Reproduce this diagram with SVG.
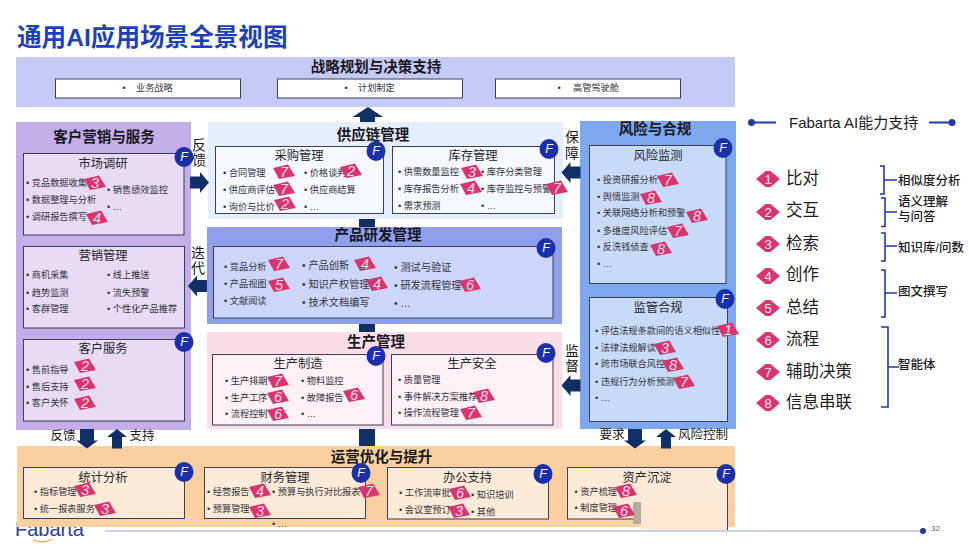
<svg xmlns="http://www.w3.org/2000/svg" width="969" height="554" viewBox="0 0 969 554">
<style>
text{font-family:"Liberation Sans","Noto Sans CJK SC",sans-serif;dominant-baseline:central;fill:#2b2b33}
.ttl{font-size:24.6px;font-weight:700;fill:#1f3fb4}
.pt{font-size:14.5px;font-weight:700;text-anchor:middle;fill:#17171d}
.bt{font-size:12.3px;text-anchor:middle;fill:#26262c}
.it{font-size:9.2px;fill:#33333c}
.ib{font-size:10.2px;fill:#33333c}
.lb{font-size:14px;text-anchor:middle;fill:#1c1c22}
.lh{font-size:12.5px;text-anchor:middle;fill:#1c1c22}
.box{stroke:#3a3f55;stroke-width:1}
.arr{fill:#0f2f66}
.tg{fill:#d8356f}
.tn{font-size:14.5px;font-style:italic;text-anchor:middle;fill:#fbdce8}
.fc{fill:#1a2fa8}
.ft{font-size:12.5px;font-style:italic;text-anchor:middle;fill:#fff}
.leg{font-size:16.5px;fill:#1c1c22}
.dn{font-size:13px;text-anchor:middle;fill:#fbe4ee}
.cap{font-size:12.5px;font-weight:500;fill:#1c1c22}
.br{fill:none;stroke:#1f3aa8;stroke-width:1.6}
</style>
<defs>
<polygon id="tag" class="tg" points="-11,-4 4,-7.5 11,4 -5,7"/>
<g id="t1"><use href="#tag"/><text class="tn">1</text></g>
<g id="t2"><use href="#tag"/><text class="tn">2</text></g>
<g id="t3"><use href="#tag"/><text class="tn">3</text></g>
<g id="t4"><use href="#tag"/><text class="tn">4</text></g>
<g id="t5"><use href="#tag"/><text class="tn">5</text></g>
<g id="t6"><use href="#tag"/><text class="tn">6</text></g>
<g id="t7"><use href="#tag"/><text class="tn">7</text></g>
<g id="t8"><use href="#tag"/><text class="tn">8</text></g>
<g id="f"><ellipse class="fc" rx="9.5" ry="10"/><text class="ft">F</text></g>
<polygon id="dia" fill="#d8356f" points="-12,0 -2.500,-8 2.500,-8 12,0 2.500,8 -2.500,8"/>
<path id="aR" class="arr" d="M-9.500,-6H0.500V-10.500L9.500,0L0.500,10.500V6H-9.500Z"/>
<path id="aL" class="arr" d="M9.500,-6H-0.500V-10.500L-9.500,0L-0.500,10.500V6H9.500Z"/>
<path id="aD" class="arr" d="M-7,-10H7V1.500H11L0,9.500L-11,1.500H-7Z"/>
<path id="aU" class="arr" d="M-5,9.500H5V-2H10L0,-10L-10,-2H-5Z"/>
</defs>
<rect width="969" height="554" fill="#fff"/>
<text class="ttl" x="17" y="37">通用AI应用场景全景视图</text>

<g id="footer">
<text x="15" y="529" style="font-size:20px;fill:#2b4193">Fabarta</text>
<path d="M33,540Q43,544 53,539" fill="none" stroke="#e8a050" stroke-width="1.200"/>
<line x1="105" y1="531" x2="923" y2="531" stroke="#b9c3ee" stroke-width="1.500"/>
<circle cx="923" cy="531" r="3" fill="#1f3aa8"/>
<text x="931" y="528" style="font-size:8px;fill:#666">32</text>
<rect x="925" y="518" width="25" height="7.500" fill="#fff"/>
</g>

<g id="strategy">
<rect x="16" y="57" width="719" height="50" fill="#c6caf6"/>
<text class="pt" x="376" y="67">战略规划与决策支持</text>
<rect class="box" x="55.500" y="79" width="185" height="19" fill="#fff"/>
<rect class="box" x="277.500" y="79" width="185" height="19" fill="#fff"/>
<rect class="box" x="495.500" y="79" width="185" height="19" fill="#fff"/>
<text class="it" y="88"><tspan x="122.500">•</tspan><tspan x="136">业务战略</tspan></text>
<text class="it" y="88"><tspan x="344.500">•</tspan><tspan x="358">计划制定</tspan></text>
<text class="it" y="88"><tspan x="557.500">•</tspan><tspan x="573">高管驾驶舱</tspan></text>
</g>

<g id="customer">
<rect x="16" y="122" width="175" height="308" fill="#c3aee9"/>
<text class="pt" x="104" y="137">客户营销与服务</text>
</g>
<g id="market-research">
<rect class="box" x="23.500" y="153.500" width="160.500" height="81.500" fill="#e7dbf6"/>
<text class="bt" x="103" y="164">市场调研</text>
<text class="it" x="26" y="183">• 竞品数据收集</text>
<text class="it" x="26" y="200">• 数据整理与分析</text>
<text class="it" x="26" y="217">• 调研报告撰写</text>
<text class="it" x="107" y="190">• 销售绩效监控</text>
<text class="it" x="107" y="207">• …</text>
<use href="#t3" x="95" y="183"/><use href="#t4" x="97" y="218"/>
<use href="#f" x="184" y="157"/>
</g>
<g id="marketing">
<rect class="box" x="23.500" y="246.500" width="161" height="81.500" fill="#e7dbf6"/>
<text class="bt" x="103" y="256">营销管理</text>
<text class="it" x="26" y="275">• 商机采集</text>
<text class="it" x="26" y="292.500">• 趋势监测</text>
<text class="it" x="26" y="309">• 客群管理</text>
<text class="it" x="107" y="275">• 线上推送</text>
<text class="it" x="107" y="293">• 流失预警</text>
<text class="it" x="107" y="309">• 个性化产品推荐</text>
</g>
<g id="customer-service">
<rect class="box" x="23.500" y="339.500" width="161" height="81.500" fill="#e7dbf6"/>
<text class="bt" x="103" y="349">客户服务</text>
<text class="it" x="26" y="370">• 售前指导</text>
<text class="it" x="26" y="387">• 售后支持</text>
<text class="it" x="26" y="403">• 客户关怀</text>
<use href="#t2" x="85" y="366"/><use href="#t2" x="85" y="384"/><use href="#t2" x="85" y="403"/>
<use href="#f" x="184" y="342"/>
</g>

<g id="supply-chain">
<rect x="208" y="122" width="355" height="97" fill="#e4eefc"/>
<text class="pt" x="373" y="135">供应链管理</text>
</g>
<g id="procurement">
<rect class="box" x="215.500" y="146.500" width="168" height="67" fill="#f5f8fe"/>
<text class="bt" x="299" y="156">采购管理</text>
<text class="it" x="223" y="173">• 合同管理</text>
<text class="it" x="223" y="190">• 供应商评估</text>
<text class="it" x="223" y="207">• 询价与比价</text>
<text class="it" x="304" y="173">• 价格谈判</text>
<text class="it" x="304" y="190">• 供应商结算</text>
<text class="it" x="304" y="207">• …</text>
<use href="#t7" x="284" y="172"/><use href="#t7" x="284" y="189"/><use href="#t2" x="285" y="204"/><use href="#t2" x="351" y="171"/>
<use href="#f" x="376" y="151"/>
</g>
<g id="inventory">
<rect class="box" x="392.500" y="146.500" width="162" height="67" fill="#f5f8fe"/>
<text class="bt" x="473" y="156">库存管理</text>
<text class="it" x="398" y="172">• 供需数量监控</text>
<text class="it" x="398" y="188.500">• 库存报告分析</text>
<text class="it" x="398" y="205.500">• 需求预测</text>
<text class="it" x="481" y="172">• 库存分类管理</text>
<text class="it" x="481" y="188.500">• 库存监控与预警</text>
<text class="it" x="481" y="205.500">• …</text>
<use href="#t3" x="472" y="172"/><use href="#t4" x="471" y="188"/><use href="#t7" x="557" y="188"/>
<use href="#f" x="549" y="149"/>
</g>

<g id="product-rd">
<rect x="207" y="227" width="355" height="97" fill="#8f9feb"/>
<text class="pt" x="378" y="235">产品研发管理</text>
<rect class="box" x="213.500" y="246.500" width="339.500" height="71.500" fill="#ccd6f9"/>
<text class="it" x="224" y="267">• 竞品分析</text>
<text class="it" x="224" y="284">• 产品视图</text>
<text class="it" x="224" y="301">• 文献阅读</text>
<text class="ib" x="302" y="265">• 产品创新</text>
<text class="ib" x="302" y="284">• 知识产权管理</text>
<text class="ib" x="302" y="302">• 技术文档编写</text>
<text class="ib" x="394" y="267">• 测试与验证</text>
<text class="ib" x="394" y="285">• 研发流程管理</text>
<text class="ib" x="394" y="303">• …</text>
<use href="#t7" x="279" y="264"/><use href="#t5" x="279" y="285"/><use href="#t4" x="365" y="264"/><use href="#t4" x="377" y="284"/><use href="#t6" x="470" y="285"/>
<use href="#f" x="546" y="248"/>
</g>

<g id="production">
<rect x="207" y="332" width="355" height="97" fill="#fbdde8"/>
<text class="pt" x="376" y="342">生产管理</text>
</g>
<g id="manufacturing">
<rect class="box" x="212.500" y="354.500" width="170.500" height="70.500" fill="#fdf1f6"/>
<text class="bt" x="298" y="364">生产制造</text>
<text class="it" x="225" y="381">• 生产排期</text>
<text class="it" x="225" y="398">• 生产工序</text>
<text class="it" x="225" y="414">• 流程控制</text>
<text class="it" x="301" y="381">• 物料监控</text>
<text class="it" x="301" y="398">• 故障报告</text>
<text class="it" x="301" y="414">• …</text>
<use href="#t7" x="278" y="381"/><use href="#t6" x="278" y="397"/><use href="#t6" x="278" y="414"/><use href="#t6" x="354" y="395"/>
<use href="#f" x="376" y="356"/>
</g>
<g id="safety">
<rect class="box" x="391.500" y="354.500" width="161.500" height="70.500" fill="#fdf1f6"/>
<text class="bt" x="472" y="364">生产安全</text>
<text class="it" x="398" y="380">• 质量管理</text>
<text class="it" x="398" y="397">• 事件解决方案推荐</text>
<text class="it" x="398" y="413">• 操作流程管理</text>
<use href="#t8" x="484" y="396"/><use href="#t7" x="471" y="413"/>
<use href="#f" x="546" y="353"/>
</g>

<g id="risk">
<rect x="580" y="121" width="156" height="308" fill="#7ea8ee"/>
<text class="pt" x="655" y="129">风险与合规</text>
</g>
<g id="risk-monitor">
<rect class="box" x="589.500" y="145.500" width="136.500" height="138" fill="#c7dbf8"/>
<text class="bt" x="658" y="156">风险监测</text>
<text class="it" x="597" y="180">• 投资研报分析</text>
<text class="it" x="597" y="197">• 舆情监测</text>
<text class="it" x="597" y="213">• 关联网络分析和预警</text>
<text class="it" x="597" y="231">• 多维度风险评估</text>
<text class="it" x="597" y="247">• 反洗钱侦查</text>
<text class="it" x="597" y="264">• …</text>
<use href="#t7" x="668" y="180"/><use href="#t8" x="651" y="198"/><use href="#t8" x="697" y="216"/><use href="#t7" x="678" y="231"/><use href="#t8" x="661" y="249"/>
<use href="#f" x="723" y="148"/>
</g>
<g id="compliance">
<rect class="box" x="589.500" y="297.500" width="138" height="124" fill="#c7dbf8"/>
<text class="bt" x="658" y="308">监管合规</text>
<text class="it" x="595" y="331">• 评估法规条款间的语义相似性</text>
<text class="it" x="595" y="348">• 法律法规解读</text>
<text class="it" x="595" y="364">• 跨市场联合风控</text>
<text class="it" x="595" y="382">• 违规行为分析预测</text>
<text class="it" x="595" y="398">• …</text>
<use href="#t1" x="728" y="330"/><use href="#t3" x="665" y="348"/><use href="#t8" x="673" y="365"/><use href="#t7" x="684" y="382"/>
<use href="#f" x="725" y="299"/>
</g>

<g id="operations">
<rect x="17" y="446" width="718" height="81" fill="#fbcf9f"/>
<text class="pt" x="381.500" y="457">运营优化与提升</text>
</g>
<g id="statistics">
<rect class="box" x="23.500" y="467.500" width="161" height="51" fill="#fdebd8"/>
<text class="bt" x="103" y="478">统计分析</text>
<text class="it" x="34" y="492">• 指标管理</text>
<text class="it" x="34" y="509">• 统一报表服务</text>
<use href="#t3" x="85" y="490"/><use href="#t3" x="105" y="509"/>
<use href="#f" x="184" y="472"/>
</g>
<g id="finance">
<rect class="box" x="204.500" y="467.500" width="161" height="51" fill="#fdebd8"/>
<text class="bt" x="285" y="478">财务管理</text>
<text class="it" x="207" y="492">• 经营报告</text>
<text class="it" x="207" y="509">• 预算管理</text>
<text class="it" x="272" y="492">• 预算与执行对比报表</text>
<text class="it" x="272" y="524">• …</text>
<use href="#t4" x="260" y="491"/><use href="#t3" x="260" y="511"/><use href="#t7" x="369" y="491"/>
<use href="#f" x="361" y="473"/>
</g>
<g id="office">
<rect class="box" x="387.500" y="467.500" width="161" height="51.500" fill="#fdebd8"/>
<text class="bt" x="467.500" y="478">办公支持</text>
<text class="it" x="399" y="493">• 工作流审批</text>
<text class="it" x="399" y="510">• 会议室预订</text>
<text class="it" x="471" y="495">• 知识培训</text>
<text class="it" x="471" y="512">• 其他</text>
<use href="#t6" x="460" y="493"/><use href="#t3" x="459" y="511"/>
<use href="#f" x="543" y="474"/>
</g>
<g id="assets">
<rect class="box" x="567.500" y="467.500" width="160" height="51.500" fill="#fdebd8"/>
<rect x="633" y="502" width="8" height="22" fill="#b5aba1"/>
<rect x="641" y="505" width="86" height="25" fill="#fde9d4"/>
<line class="box" x1="727.500" y1="505" x2="727.500" y2="530"/>
<text class="bt" x="647" y="478">资产沉淀</text>
<text class="it" x="574.500" y="492">• 资产梳理</text>
<text class="it" x="574.500" y="508">• 制度管理</text>
<use href="#t8" x="626" y="491"/><use href="#t6" x="624" y="511"/>
<use href="#f" x="726" y="474"/>
</g>

<g id="connectors">
<path class="arr" d="M360,122V117H352.500L368,107L383,117H375V122Z"/>
<rect class="arr" x="359" y="219" width="16" height="8"/>
<rect class="arr" x="359" y="324" width="16" height="8"/>
<rect class="arr" x="359" y="429" width="16" height="17"/>
<use href="#aR" x="199.500" y="182.500"/>
<use href="#aL" x="571" y="172.500"/>
<use href="#aL" x="197.500" y="286"/>
<use href="#aL" x="571" y="385.500"/>
<use href="#aD" x="87" y="439"/>
<use href="#aU" x="117" y="439"/>
<use href="#aD" x="635" y="439"/>
<use href="#aU" x="666" y="439"/>
<text class="lb" x="199" y="145">反</text><text class="lb" x="199" y="160">馈</text>
<text class="lb" x="572" y="137">保</text><text class="lb" x="572" y="153">障</text>
<text class="lb" x="198" y="253">迭</text><text class="lb" x="198" y="268">代</text>
<text class="lb" x="572" y="351">监</text><text class="lb" x="572" y="366">督</text>
<text class="lh" x="63" y="436">反馈</text>
<text class="lh" x="142" y="436">支持</text>
<text class="lh" x="612" y="435">要求</text>
<text class="lh" x="703" y="435">风险控制</text>
</g>

<g id="legend">
<text x="789" y="122" style="font-size:15px;fill:#1c1c22">Fabarta AI能力支持</text>
<circle cx="751.500" cy="122.500" r="3.500" fill="#1f3aa8"/><line x1="751" y1="122.500" x2="776" y2="122.500" stroke="#1f3aa8" stroke-width="2"/>
<circle cx="952" cy="122.500" r="3.500" fill="#1f3aa8"/><line x1="929" y1="122.500" x2="952" y2="122.500" stroke="#1f3aa8" stroke-width="2"/>
<use href="#dia" x="768" y="179"/><text class="dn" x="768" y="179">1</text><text class="leg" x="786" y="178">比对</text>
<use href="#dia" x="768" y="212"/><text class="dn" x="768" y="212">2</text><text class="leg" x="786" y="210">交互</text>
<use href="#dia" x="768" y="244"/><text class="dn" x="768" y="244">3</text><text class="leg" x="786" y="243">检索</text>
<use href="#dia" x="768" y="276"/><text class="dn" x="768" y="276">4</text><text class="leg" x="786" y="274">创作</text>
<use href="#dia" x="768" y="308"/><text class="dn" x="768" y="308">5</text><text class="leg" x="786" y="307">总结</text>
<use href="#dia" x="768" y="340"/><text class="dn" x="768" y="340">6</text><text class="leg" x="786" y="339">流程</text>
<use href="#dia" x="768" y="372"/><text class="dn" x="768" y="372">7</text><text class="leg" x="786" y="371">辅助决策</text>
<use href="#dia" x="768" y="403"/><text class="dn" x="768" y="403">8</text><text class="leg" x="786" y="402">信息串联</text>
<path class="br" d="M880,166H884V194H880M884,180H897"/>
<path class="br" d="M881,198H885V226.500H881M885,212H897"/>
<path class="br" d="M881,233H885V261H881M885,246H897"/>
<path class="br" d="M881,270H885V317H881M885,293H897"/>
<path class="br" d="M881,327H888V407H881M888,367H899"/>
<text class="cap" x="898" y="181">相似度分析</text>
<text class="cap" x="898" y="202">语义理解</text>
<text class="cap" x="898" y="217">与问答</text>
<text class="cap" x="898" y="248">知识库/问数</text>
<text class="cap" x="898" y="292">图文撰写</text>
<text class="cap" x="898" y="365">智能体</text>
</g>
</svg>
